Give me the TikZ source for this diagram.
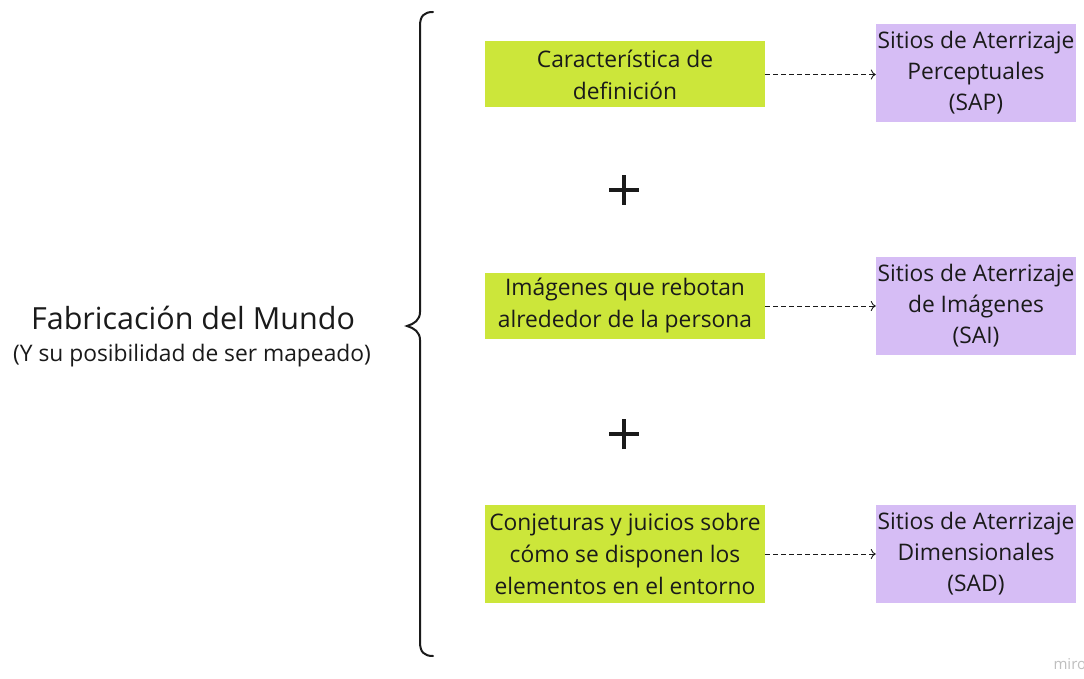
\documentclass[tikz,border=0pt]{standalone}
\usepackage{fontspec}
\setmainfont{Open Sans}
\usetikzlibrary{arrows.meta}
\definecolor{limeg}{RGB}{204,230,58}
\definecolor{lilac}{RGB}{214,189,245}
\definecolor{ink}{RGB}{26,26,26}
\tikzset{
  greenbox/.style={fill=limeg, draw=none, minimum width=280pt, minimum height=66pt, align=center, inner sep=0pt, text=ink, font=\fontsize{22.8}{32}\selectfont},
  purplebox/.style={fill=lilac, draw=none, minimum width=200pt, minimum height=98pt, align=center, inner sep=0pt, text=ink, font=\fontsize{22.8}{31}\selectfont},
  dasharrow/.style={draw=ink, dashed, dash pattern=on 5pt off 3pt, line width=0.9pt, -{To[length=5pt,width=10pt]}},
  plussign/.style={draw=ink, line width=3.4pt},
}
\begin{document}
\begin{tikzpicture}[x=1pt,y=-1pt]
\clip (0,0) rectangle (1084,679);
\useasboundingbox (0,0) rectangle (1084,679);
\fill[white] (0,0) rectangle (1084,679);

% left title
\node[text=ink, font=\fontsize{30.5}{36}\selectfont] (title) at (193,318) {Fabricación del Mundo};
\node[text=ink, font=\fontsize{22.8}{27}\selectfont] (subtitle) at (192,356) {(Y su posibilidad de ser mapeado)};

% brace
\draw[ink, line width=2pt, line cap=round]
  (433,12) .. controls (424,12) and (420,16) .. (420,26)
  -- (420,312) .. controls (420,320) and (414,324) .. (407,326)
  .. controls (414,328) and (420,332) .. (420,340)
  -- (420,642) .. controls (420,652) and (424,656) .. (433,656);

% green boxes
\node[greenbox] (g1) at (625,74.5) {Característica de\\definición};
\node[greenbox] (g2) at (625,306) {Imágenes que rebotan\\alrededor de la persona};
\node[greenbox, minimum height=98pt] (g3) at (625,554) {Conjeturas y juicios sobre\\cómo se disponen los\\elementos en el entorno};

% purple boxes
\node[purplebox] (p1) at (976,73) {Sitios de Aterrizaje\\Perceptuales\\(SAP)};
\node[purplebox] (p2) at (976,306) {Sitios de Aterrizaje\\de Imágenes\\(SAI)};
\node[purplebox] (p3) at (976,554) {Sitios de Aterrizaje\\Dimensionales\\(SAD)};

% arrows
\draw[dasharrow] (g1.east) -- (g1.east -| p1.west);
\draw[dasharrow] (g2.east) -- (g2.east -| p2.west);
\draw[dasharrow] (g3.east) -- (g3.east -| p3.west);

% plus signs
\coordinate (plus1) at (624,190);
\coordinate (plus2) at (624,434);
\draw[plussign] ([xshift=-15pt]plus1) -- ([xshift=15pt]plus1);
\draw[plussign] ([yshift=-15pt]plus1) -- ([yshift=15pt]plus1);
\draw[plussign] ([xshift=-15pt]plus2) -- ([xshift=15pt]plus2);
\draw[plussign] ([yshift=-15pt]plus2) -- ([yshift=15pt]plus2);

% watermark
\node[anchor=west, text=black!25, font=\fontsize{15}{18}\selectfont] (miro) at (1050,664) {miro};
\end{tikzpicture}
\end{document}
